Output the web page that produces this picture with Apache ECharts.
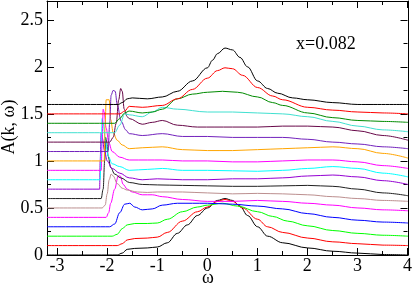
<!DOCTYPE html>
<html><head><meta charset="utf-8">
<script src="https://cdn.jsdelivr.net/npm/echarts@6/dist/echarts.min.js"></script>
<style>html,body{margin:0;padding:0;background:#fff}#c{width:415px;height:287px}</style>
</head><body><div id="c"></div>
<script>
// each curve: [omega, A] (vertical offset already included)
var c00 = [[-3.2,0],[-1.8,0],[-1.7,0.02],[-1.6,0.06],[-1.45,0.07],[-1.2,0.075],[-1.0,0.085],[-0.8,0.13],[-0.6,0.23],[-0.4,0.32],[-0.2,0.42],[0,0.5],[0.2,0.58],[0.35,0.6],[0.5,0.58],[0.65,0.52],[0.8,0.42],[1.0,0.3],[1.2,0.2],[1.5,0.13],[2.0,0.075],[2.5,0.04],[3.0,0.02],[3.5,0.005],[4,0]];
var c01 = [[-3.2,0.1],[-1.8,0.1],[-1.7,0.12],[-1.6,0.16],[-1.45,0.175],[-1.2,0.18],[-1,0.19],[-0.8,0.24],[-0.5,0.36],[-0.2,0.46],[0,0.51],[0.2,0.57],[0.35,0.59],[0.5,0.57],[0.7,0.5],[1.0,0.38],[1.2,0.3],[1.5,0.24],[2,0.18],[2.5,0.14],[3,0.12],[3.5,0.105],[4,0.1]];
var c02 = [[-3.2,0.2],[-1.9,0.2],[-1.8,0.22],[-1.7,0.28],[-1.6,0.32],[-1.45,0.335],[-1.2,0.335],[-1,0.34],[-0.8,0.38],[-0.5,0.46],[-0.2,0.51],[0,0.53],[0.3,0.55],[0.6,0.52],[1,0.46],[1.3,0.41],[1.6,0.36],[2,0.31],[2.5,0.26],[3,0.23],[3.5,0.21],[4,0.2]];
var c03 = [[-3.2,0.3],[-1.95,0.3],[-1.85,0.33],[-1.75,0.45],[-1.65,0.54],[-1.55,0.55],[-1.45,0.51],[-1.3,0.48],[-1.1,0.49],[-0.9,0.53],[-0.6,0.55],[0,0.55],[0.5,0.54],[1,0.52],[1.5,0.49],[2,0.44],[2.5,0.4],[3,0.37],[3.5,0.35],[4,0.34]];
var c04 = [[-3.2,0.4],[-2.02,0.4],[-1.97,0.45],[-1.93,0.55],[-1.85,0.7],[-1.78,0.84],[-1.74,0.84],[-1.68,0.75],[-1.6,0.7],[-1.5,0.67],[-1.3,0.64],[-1.1,0.64],[-0.9,0.62],[-0.5,0.59],[0,0.57],[0.5,0.57],[1,0.58],[1.5,0.57],[2,0.55],[2.5,0.53],[3,0.5],[3.5,0.48],[4,0.47]];
var c05 = [[-3.2,0.5],[-2.1,0.5],[-2.04,0.53],[-2.0,0.65],[-1.96,0.8],[-1.92,0.86],[-1.88,0.84],[-1.8,0.76],[-1.7,0.71],[-1.6,0.69],[-1.4,0.67],[-1.2,0.665],[-1,0.67],[-0.5,0.67],[0,0.66],[0.5,0.65],[1,0.655],[1.5,0.65],[2,0.64],[2.5,0.62],[3,0.6],[3.5,0.58],[4,0.57]];
var c06 = [[-3.2,0.6],[-2.12,0.6],[-2.08,0.7],[-2.05,1.0],[-2.03,1.25],[-2.01,1.2],[-1.98,1.05],[-1.93,0.93],[-1.85,0.86],[-1.73,0.82],[-1.55,0.77],[-1.3,0.75],[-1,0.745],[-0.5,0.74],[0,0.735],[0.5,0.73],[1,0.73],[1.5,0.735],[2,0.74],[2.5,0.73],[3,0.7],[3.5,0.66],[4,0.63]];
var c07 = [[-3.2,0.7],[-2.15,0.7],[-2.14,1.0],[-2.12,1.3],[-2.1,1.25],[-2.05,1.1],[-2.0,1.0],[-1.9,0.92],[-1.75,0.87],[-1.56,0.82],[-1.3,0.8],[-1,0.81],[-0.5,0.8],[0,0.8],[0.5,0.81],[1,0.81],[1.5,0.82],[2,0.84],[2.5,0.85],[3,0.83],[3.5,0.79],[4,0.75]];
var c08 = [[-3.2,0.8],[-2.14,0.8],[-2.12,1.1],[-2.1,1.45],[-2.08,1.4],[-2.03,1.2],[-1.98,1.05],[-1.9,0.97],[-1.75,0.94],[-1.56,0.9],[-1.2,0.91],[-0.9,0.92],[-0.5,0.9],[0,0.9],[0.5,0.895],[1,0.89],[1.5,0.9],[2,0.92],[2.5,0.94],[3,0.92],[3.5,0.87],[4,0.83]];
var c09 = [[-3.2,0.9],[-2.12,0.9],[-2.1,1.2],[-2.08,1.55],[-2.06,1.52],[-2.02,1.35],[-1.97,1.2],[-1.9,1.1],[-1.75,1.04],[-1.56,1.01],[-1.2,1.01],[-0.9,1.01],[-0.5,1.0],[0,1.0],[0.5,0.99],[1,0.99],[1.5,1.0],[2,1.01],[2.5,1.01],[3,0.99],[3.5,0.95],[4,0.92]];
var c10 = [[-3.2,1.0],[-2.06,1.0],[-2.04,1.4],[-2.02,1.65],[-1.96,1.65],[-1.93,1.44],[-1.88,1.3],[-1.8,1.22],[-1.7,1.17],[-1.56,1.13],[-1.3,1.14],[-0.9,1.15],[-0.5,1.12],[0,1.11],[0.5,1.11],[1,1.12],[1.5,1.13],[2,1.14],[2.5,1.15],[3,1.13],[3.5,1.08],[4,1.03]];
var c11 = [[-3.2,1.1],[-1.98,1.1],[-1.95,1.4],[-1.92,1.7],[-1.88,1.75],[-1.84,1.74],[-1.8,1.6],[-1.72,1.42],[-1.63,1.33],[-1.56,1.29],[-1.3,1.27],[-0.9,1.29],[-0.5,1.26],[0,1.26],[0.5,1.25],[1,1.25],[1.5,1.25],[2,1.23],[2.5,1.2],[3,1.18],[3.5,1.15],[4,1.13]];
var c12 = [[-3.2,1.2],[-1.95,1.2],[-1.88,1.25],[-1.82,1.4],[-1.77,1.65],[-1.73,1.77],[-1.7,1.74],[-1.66,1.55],[-1.6,1.47],[-1.56,1.45],[-1.3,1.39],[-1.1,1.41],[-0.9,1.43],[-0.6,1.38],[-0.2,1.36],[0.5,1.36],[1,1.36],[1.5,1.37],[2,1.37],[2.5,1.36],[3,1.32],[3.5,1.27],[4,1.22]];
var c13 = [[-3.2,1.3],[-1.85,1.3],[-1.75,1.38],[-1.65,1.5],[-1.56,1.49],[-1.3,1.47],[-1.1,1.52],[-0.9,1.57],[-0.6,1.55],[0,1.52],[0.5,1.52],[1,1.51],[1.5,1.5],[2,1.47],[2.5,1.42],[3,1.37],[3.5,1.33],[4,1.31]];
var c14 = [[-3.2,1.4],[-1.85,1.4],[-1.75,1.45],[-1.65,1.51],[-1.56,1.53],[-1.3,1.51],[-1.1,1.52],[-0.9,1.55],[-0.6,1.66],[-0.3,1.71],[0,1.73],[0.3,1.74],[0.6,1.73],[1,1.68],[1.3,1.62],[1.5,1.59],[2,1.51],[2.5,1.46],[3,1.43],[3.5,1.42],[4,1.41]];
var c15 = [[-3.2,1.5],[-1.75,1.5],[-1.65,1.53],[-1.56,1.58],[-1.3,1.57],[-0.9,1.59],[-0.6,1.66],[-0.3,1.76],[0,1.88],[0.2,1.96],[0.35,1.99],[0.5,1.98],[0.7,1.91],[1,1.78],[1.3,1.69],[1.5,1.65],[2,1.57],[2.5,1.54],[3,1.52],[3.5,1.51],[4,1.5]];
var c16 = [[-3.2,1.6],[-1.78,1.6],[-1.7,1.62],[-1.6,1.66],[-1.5,1.67],[-1.2,1.66],[-0.9,1.68],[-0.6,1.74],[-0.3,1.85],[0,1.99],[0.1,2.07],[0.2,2.14],[0.35,2.2],[0.5,2.18],[0.65,2.1],[0.8,2.0],[1,1.85],[1.2,1.77],[1.4,1.72],[1.7,1.67],[2,1.65],[2.5,1.62],[3,1.6],[4,1.6]];

var curves = [c00,c01,c02,c03,c04,c05,c06,c07,c08,c09,c10,c11,c12,c13,c14,c15,c16];
var colors = ['#000000','#ff0000','#00ff00','#0000ff','#ff00ff','#bc8f8f','#202020','#9400d3','#00ffff','#ff00ff','#ffa500','#7221bc','#670748','#40e0d0','#008b00','#ff0000','#000000'];
var xTicks = {min:-3, max:4, step:1};
var yTicks = {min:0, max:2.5, step:0.5};
var xRange = [-3.2, 4];
var yRange = [0, 2.7];
var annotation = 'x=0.082';
var xName = 'ω';
var yName = 'A(k, ω)';

var G = {left:47, right:7, top:1, bottom:32};
var W = 415 - G.left - G.right, H = 287 - G.top - G.bottom;
var dx = W * (xTicks.min - xRange[0]) / (xRange[1] - xRange[0]);
var dy = H * (yRange[1] - yTicks.max) / (yRange[1] - yRange[0]);
var serif = '"Liberation Serif", "Times New Roman", serif';
var lineC = '#000';

function tickAxis(pos, extra) {
  var o = {
    type:'value', position:pos, gridIndex:1,
    axisLine:{show:false, onZero:false},
    axisTick:{show:true, inside:true, length:7, lineStyle:{color:lineC,width:1}},
    minorTick:{show:true, splitNumber:2, length:4, lineStyle:{color:lineC,width:1}},
    splitLine:{show:false}, minorSplitLine:{show:false},
    axisLabel:{show:false}
  };
  for (var k in extra) o[k] = extra[k];
  return o;
}
function frameAxis(pos, mn, mx) {
  return {type:'value', position:pos, gridIndex:0, min:mn, max:mx,
    axisLine:{show:true, onZero:false, lineStyle:{color:lineC,width:1}},
    axisTick:{show:false}, axisLabel:{show:false}, splitLine:{show:false}};
}

var series = curves.map(function(d, i) {
  return {type:'line', data:d, xAxisIndex:0, yAxisIndex:0, showSymbol:false, symbol:'none',
    smooth:0.35, smoothMonotone:'x', lineStyle:{color:colors[i], width:1}, clip:true, z:2+i};
});

var chart = echarts.init(document.getElementById('c'), null, {renderer:'canvas'});
chart.setOption({
  animation:false,
  backgroundColor:'#fff',
  grid:[
    {left:G.left, right:G.right, top:G.top, bottom:G.bottom},
    {left:G.left+dx, right:G.right, top:G.top+dy, bottom:G.bottom}
  ],
  xAxis:[
    frameAxis('bottom', xRange[0], xRange[1]),
    frameAxis('top', xRange[0], xRange[1]),
    tickAxis('bottom', {min:xTicks.min, max:xTicks.max, interval:xTicks.step,
      axisLabel:{show:true, margin:2, fontFamily:serif, fontSize:18, color:'#000'}}),
    tickAxis('top', {min:xTicks.min, max:xTicks.max, interval:xTicks.step, offset:dy})
  ],
  yAxis:[
    frameAxis('left', yRange[0], yRange[1]),
    frameAxis('right', yRange[0], yRange[1]),
    tickAxis('left', {min:yTicks.min, max:yTicks.max, interval:yTicks.step, offset:dx,
      axisLabel:{show:true, margin:4, fontFamily:serif, fontSize:18, color:'#000'}}),
    tickAxis('right', {min:yTicks.min, max:yTicks.max, interval:yTicks.step})
  ],
  series:series,
  graphic:[
    {type:'text', x:208, y:278, style:{text:xName, font:'18px '+serif, fill:'#000', textAlign:'center', textVerticalAlign:'middle'}},
    {type:'text', x:9, y:127, rotation:Math.PI/2, style:{text:yName, font:'18px '+serif, fill:'#000', textAlign:'center', textVerticalAlign:'middle'}},
    {type:'text', x:296, y:44, style:{text:annotation, font:'18px '+serif, fill:'#000', textAlign:'left', textVerticalAlign:'middle'}}
  ]
});
</script></body></html>
